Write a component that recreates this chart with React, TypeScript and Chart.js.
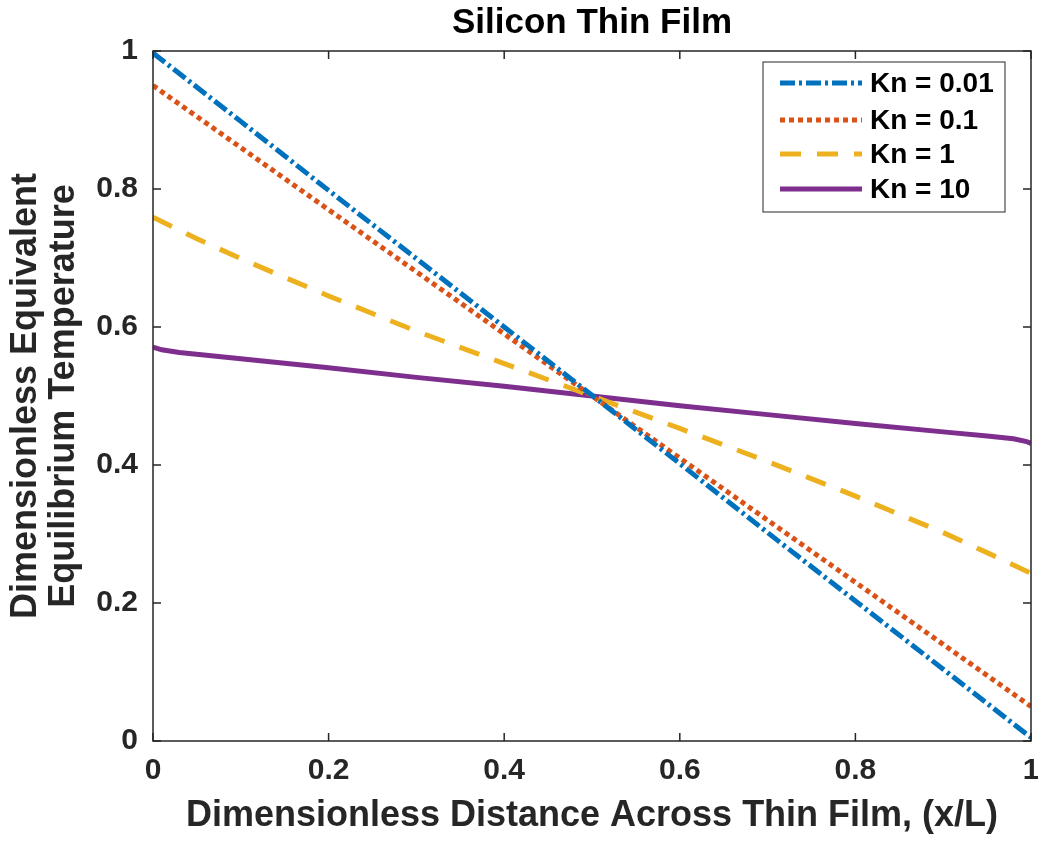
import React, { useEffect, useRef } from 'react';
import { Chart, registerables } from 'chart.js';

Chart.register(...registerables);

const chartTitle = 'Silicon Thin Film';
const xAxisTitle = 'Dimensionless Distance Across Thin Film, (x/L)';
const yAxisTitle = ['Dimensionless Equivalent', 'Equilibrium Temperature'];

const seriesLabels = ['Kn = 0.01', 'Kn = 0.1', 'Kn = 1', 'Kn = 10'];
const seriesColors = ['#0072BD', '#D95319', '#EDB120', '#7E2F8E'];
const seriesDashes = [[15, 4, 3, 4], [5, 4], [21, 16], []];

const kn001X = [0, 0.1, 0.2, 0.3, 0.4, 0.5, 0.6, 0.7, 0.8, 0.9, 1];
const kn001Y = [0.997, 0.898, 0.798, 0.699, 0.6, 0.501, 0.402, 0.302, 0.203, 0.104, 0.005];

const kn01X = [0, 0.02, 0.1, 0.2, 0.3, 0.4, 0.5, 0.6, 0.7, 0.8, 0.9, 0.98, 1];
const kn01Y = [0.95, 0.932, 0.86, 0.77, 0.68, 0.59, 0.5, 0.41, 0.32, 0.23, 0.14, 0.068, 0.05];

const kn1X = [0, 0.05, 0.1, 0.2, 0.3, 0.4, 0.5, 0.6, 0.7, 0.8, 0.9, 0.95, 1];
const kn1Y = [0.759, 0.728, 0.699, 0.645, 0.594, 0.547, 0.5, 0.453, 0.405, 0.355, 0.302, 0.273, 0.243];

const kn10X = [0, 0.01, 0.03, 0.1, 0.2, 0.3, 0.4, 0.5, 0.6, 0.7, 0.8, 0.9, 0.95, 0.98, 0.995, 1];
const kn10Y = [0.571, 0.567, 0.563, 0.554, 0.541, 0.527, 0.514, 0.5, 0.486, 0.473, 0.46, 0.448, 0.442, 0.438, 0.434, 0.431];

const xTickValues = [0, 0.2, 0.4, 0.6, 0.8, 1];
const yTickValues = [0, 0.2, 0.4, 0.6, 0.8, 1];

const FONT = '"Liberation Sans", Arial, Helvetica, sans-serif';
const AXIS_COLOR = '#262626';

const seriesX = [kn001X, kn01X, kn1X, kn10X];
const seriesY = [kn001Y, kn01Y, kn1Y, kn10Y];

const boxTicksPlugin = {
  id: 'boxTicks',
  afterDatasetsDraw(chart: any) {
    const { ctx, chartArea, scales } = chart;
    const { left, right, top, bottom } = chartArea;
    const len = 8;
    ctx.save();
    ctx.strokeStyle = AXIS_COLOR;
    ctx.lineWidth = 1.5;
    ctx.setLineDash([]);
    ctx.strokeRect(left, top, right - left, bottom - top);
    ctx.beginPath();
    xTickValues.forEach((v) => {
      const px = scales.x.getPixelForValue(v);
      ctx.moveTo(px, bottom);
      ctx.lineTo(px, bottom - len);
      ctx.moveTo(px, top);
      ctx.lineTo(px, top + len);
    });
    yTickValues.forEach((v) => {
      const py = scales.y.getPixelForValue(v);
      ctx.moveTo(left, py);
      ctx.lineTo(left + len, py);
      ctx.moveTo(right, py);
      ctx.lineTo(right - len, py);
    });
    ctx.stroke();

    // legend
    const bx = right - 268;
    const by = top + 11;
    const bw = 242;
    const bh = 150;
    ctx.fillStyle = '#ffffff';
    ctx.fillRect(bx, by, bw, bh);
    ctx.lineWidth = 1;
    ctx.strokeStyle = AXIS_COLOR;
    ctx.strokeRect(bx, by, bw, bh);
    const rows = [21, 58, 92, 127];
    chart.data.datasets.forEach((ds: any, i: number) => {
      const y = by + rows[i];
      ctx.beginPath();
      ctx.strokeStyle = ds.borderColor;
      ctx.lineWidth = ds.borderWidth;
      ctx.setLineDash(ds.borderDash || []);
      ctx.moveTo(bx + 17, y);
      ctx.lineTo(bx + 99, y);
      ctx.stroke();
      ctx.setLineDash([]);
      ctx.fillStyle = '#000000';
      ctx.font = `bold 28px ${FONT}`;
      ctx.textAlign = 'left';
      ctx.textBaseline = 'middle';
      ctx.fillText(ds.label, bx + 107, y + 1);
    });
    ctx.restore();
  },
};

export default function App() {
  const canvasRef = useRef<HTMLCanvasElement | null>(null);

  useEffect(() => {
    document.body.style.margin = '0';
    const canvas = canvasRef.current;
    if (!canvas) return;
    const chart = new Chart(canvas, {
      type: 'line',
      data: {
        datasets: seriesLabels.map((label, i) => ({
          label,
          data: seriesX[i].map((x, j) => ({ x, y: seriesY[i][j] })),
          borderColor: seriesColors[i],
          backgroundColor: seriesColors[i],
          borderWidth: 5,
          borderDash: seriesDashes[i],
          borderCapStyle: 'butt',
          pointRadius: 0,
          tension: 0,
          fill: false,
        })),
      },
      options: {
        animation: false,
        responsive: false,
        events: [],
        layout: { padding: { left: 0, right: 0, top: 0, bottom: 0 } },
        plugins: {
          legend: { display: false },
          tooltip: { enabled: false },
          title: {
            display: true,
            text: chartTitle,
            fullSize: false,
            color: '#000000',
            font: { family: FONT, size: 35, weight: 'bold', lineHeight: 1.2 },
            padding: { top: 2, bottom: 7 },
          },
        },
        scales: {
          x: {
            type: 'linear',
            min: 0,
            max: 1,
            afterBuildTicks: (s: any) => {
              s.ticks = xTickValues.map((v) => ({ value: v }));
            },
            afterFit: (s: any) => {
              s.height = 100;
              s.paddingLeft = 0;
              s.paddingRight = 7;
            },
            grid: { display: false, drawTicks: false },
            border: { display: false },
            ticks: {
              color: AXIS_COLOR,
              padding: 12,
              maxRotation: 0,
              font: { family: FONT, size: 30, weight: 'bold', lineHeight: 1.2 },
              callback: (v: any) => String(v),
            },
            title: {
              display: true,
              text: xAxisTitle,
              color: AXIS_COLOR,
              font: { family: FONT, size: 36, weight: 'bold', lineHeight: 1.2 },
              padding: { top: 0, bottom: 3 },
            },
          },
          y: {
            type: 'linear',
            min: 0,
            max: 1,
            afterBuildTicks: (s: any) => {
              s.ticks = yTickValues.map((v) => ({ value: v }));
            },
            afterFit: (s: any) => {
              s.width = 153;
              s.paddingTop = 0;
              s.paddingBottom = 0;
            },
            grid: { display: false, drawTicks: false },
            border: { display: false },
            ticks: {
              color: AXIS_COLOR,
              padding: 15,
              font: { family: FONT, size: 30, weight: 'bold', lineHeight: 1.2 },
              callback: (v: any) => String(v),
            },
            title: {
              display: true,
              text: yAxisTitle,
              color: AXIS_COLOR,
              font: { family: FONT, size: 36, weight: 'bold', lineHeight: 1.05 },
              padding: { top: 7, bottom: 0 },
            },
          },
        },
      },
      plugins: [boxTicksPlugin],
    } as any);
    return () => chart.destroy();
  }, []);

  return (
    <div style={{ position: 'absolute', left: 0, top: 0, width: 1038, height: 841, background: '#ffffff' }}>
      <canvas ref={canvasRef} width={1038} height={841} style={{ width: 1038, height: 841, display: 'block' }} />
    </div>
  );
}
